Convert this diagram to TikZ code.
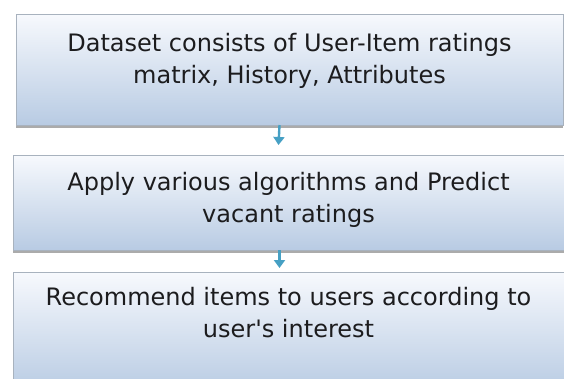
\documentclass[tikz,border=0pt]{standalone}
\usepackage{fontspec}
\setmainfont{DejaVu Sans}
\usetikzlibrary{positioning,shadows,arrows.meta}

\definecolor{boxtop}{RGB}{247,249,253}
\definecolor{boxbottom}{RGB}{184,203,227}
\definecolor{boxline}{RGB}{168,178,190}
\definecolor{arrowcol}{RGB}{70,160,196}
\definecolor{textcol}{RGB}{28,28,30}

\tikzset{
	stepbox/.style={draw=boxline,line width=1pt,top color=boxtop,bottom color=boxbottom,
		inner sep=0pt,outer sep=0pt,minimum width=550pt,
		drop shadow={shadow xshift=0pt,shadow yshift=-2.5pt,opacity=.6,fill=black!55}},
	steptext/.style={anchor=north,align=center,inner sep=0pt,text=textcol,
		font=\fontsize{24}{32}\selectfont},
	flowarrow/.style={draw=arrowcol,line width=2.4pt,-{Triangle[width=11pt,length=8pt]}}
}

\begin{document}
\begin{tikzpicture}[x=1pt,y=-1pt]
	\useasboundingbox (0,0) rectangle (564,378);
	\clip (0,0) rectangle (564,378);

	% boxes
	\node[stepbox,minimum width=547pt,minimum height=111pt] (box1) at (289.5,69.5) {};
	\node[stepbox,minimum width=551pt,minimum height=95pt,below=30pt of box1,xshift=-1pt] (box2) {};
	\node[stepbox,minimum width=551pt,minimum height=120pt,below=22pt of box2] (box3) {};

	% texts
	\node[steptext] (text1) at ([yshift=-19pt]box1.north) {Dataset consists of User-Item ratings\\matrix, History, Attributes};
	\node[steptext] (text2) at ([yshift=-17pt]box2.north) {Apply various algorithms and Predict\\vacant ratings};
	\node[steptext] (text3) at ([yshift=-15pt]box3.north) {Recommend items to users according to\\user\textquotesingle s interest};

	% arrows
	\draw[flowarrow] ([xshift=-10pt]box1.south) -- ([xshift=-10pt,yshift=10pt]box2.north);
	\draw[flowarrow] ([xshift=-9pt]box2.south) -- ([xshift=-9pt,yshift=4pt]box3.north);
\end{tikzpicture}
\end{document}
